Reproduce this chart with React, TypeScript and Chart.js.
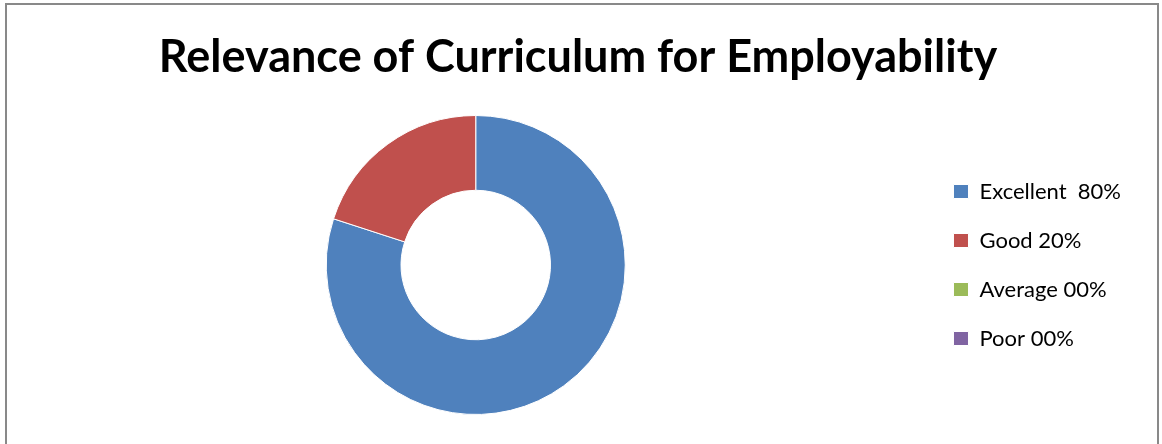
import React, { useEffect, useRef } from "react";
import { Chart, registerables } from "chart.js";

Chart.register(...registerables);

const titleText = "Relevance of Curriculum for Employability";
const categories = ["Excellent  80%", "Good 20%", "Average 00%", "Poor 00%"];
const values = [80, 20, 0, 0];
const colors = ["#4F81BD", "#C0504D", "#9BBB59", "#8064A2"];

export default function App() {
  const ref = useRef<HTMLCanvasElement | null>(null);

  useEffect(() => {
    if (!ref.current) return;
    const chart = new Chart(ref.current, {
      type: "doughnut",
      data: {
        labels: categories,
        datasets: [
          {
            data: values,
            backgroundColor: colors,
            borderColor: "#ffffff",
            borderWidth: 1,
          },
        ],
      },
      options: {
        responsive: false,
        animation: false,
        cutout: "50%",
        layout: { padding: { left: 25, right: 31, top: 0, bottom: 29 } },
        plugins: {
          tooltip: { enabled: false },
          title: {
            display: true,
            text: titleText,
            color: "#000000",
            font: { family: "Lato", size: 45, weight: "bold", lineHeight: 1.2 },
            padding: { top: 30, bottom: 31 },
          },
          legend: {
            position: "right",
            fullSize: false,
            labels: {
              color: "#000000",
              font: { family: "Lato", size: 22, lineHeight: 1.2 },
              boxWidth: 15,
              boxHeight: 14,
              padding: 27,
            },
          },
        },
      },
    });
    return () => chart.destroy();
  }, []);

  return (
    <div style={{ position: "fixed", left: 0, top: 0, width: 1162, height: 444, background: "#fff", overflow: "hidden" }}>
      <canvas ref={ref} width={1162} height={444} style={{ position: "absolute", left: 0, top: 0 }} />
      <div
        style={{
          position: "absolute",
          left: 5,
          top: 3,
          width: 1154,
          height: 441,
          boxSizing: "border-box",
          borderTop: "2px solid #898989",
          borderLeft: "2px solid #898989",
          borderRight: "2px solid #898989",
          pointerEvents: "none",
        }}
      />
    </div>
  );
}
